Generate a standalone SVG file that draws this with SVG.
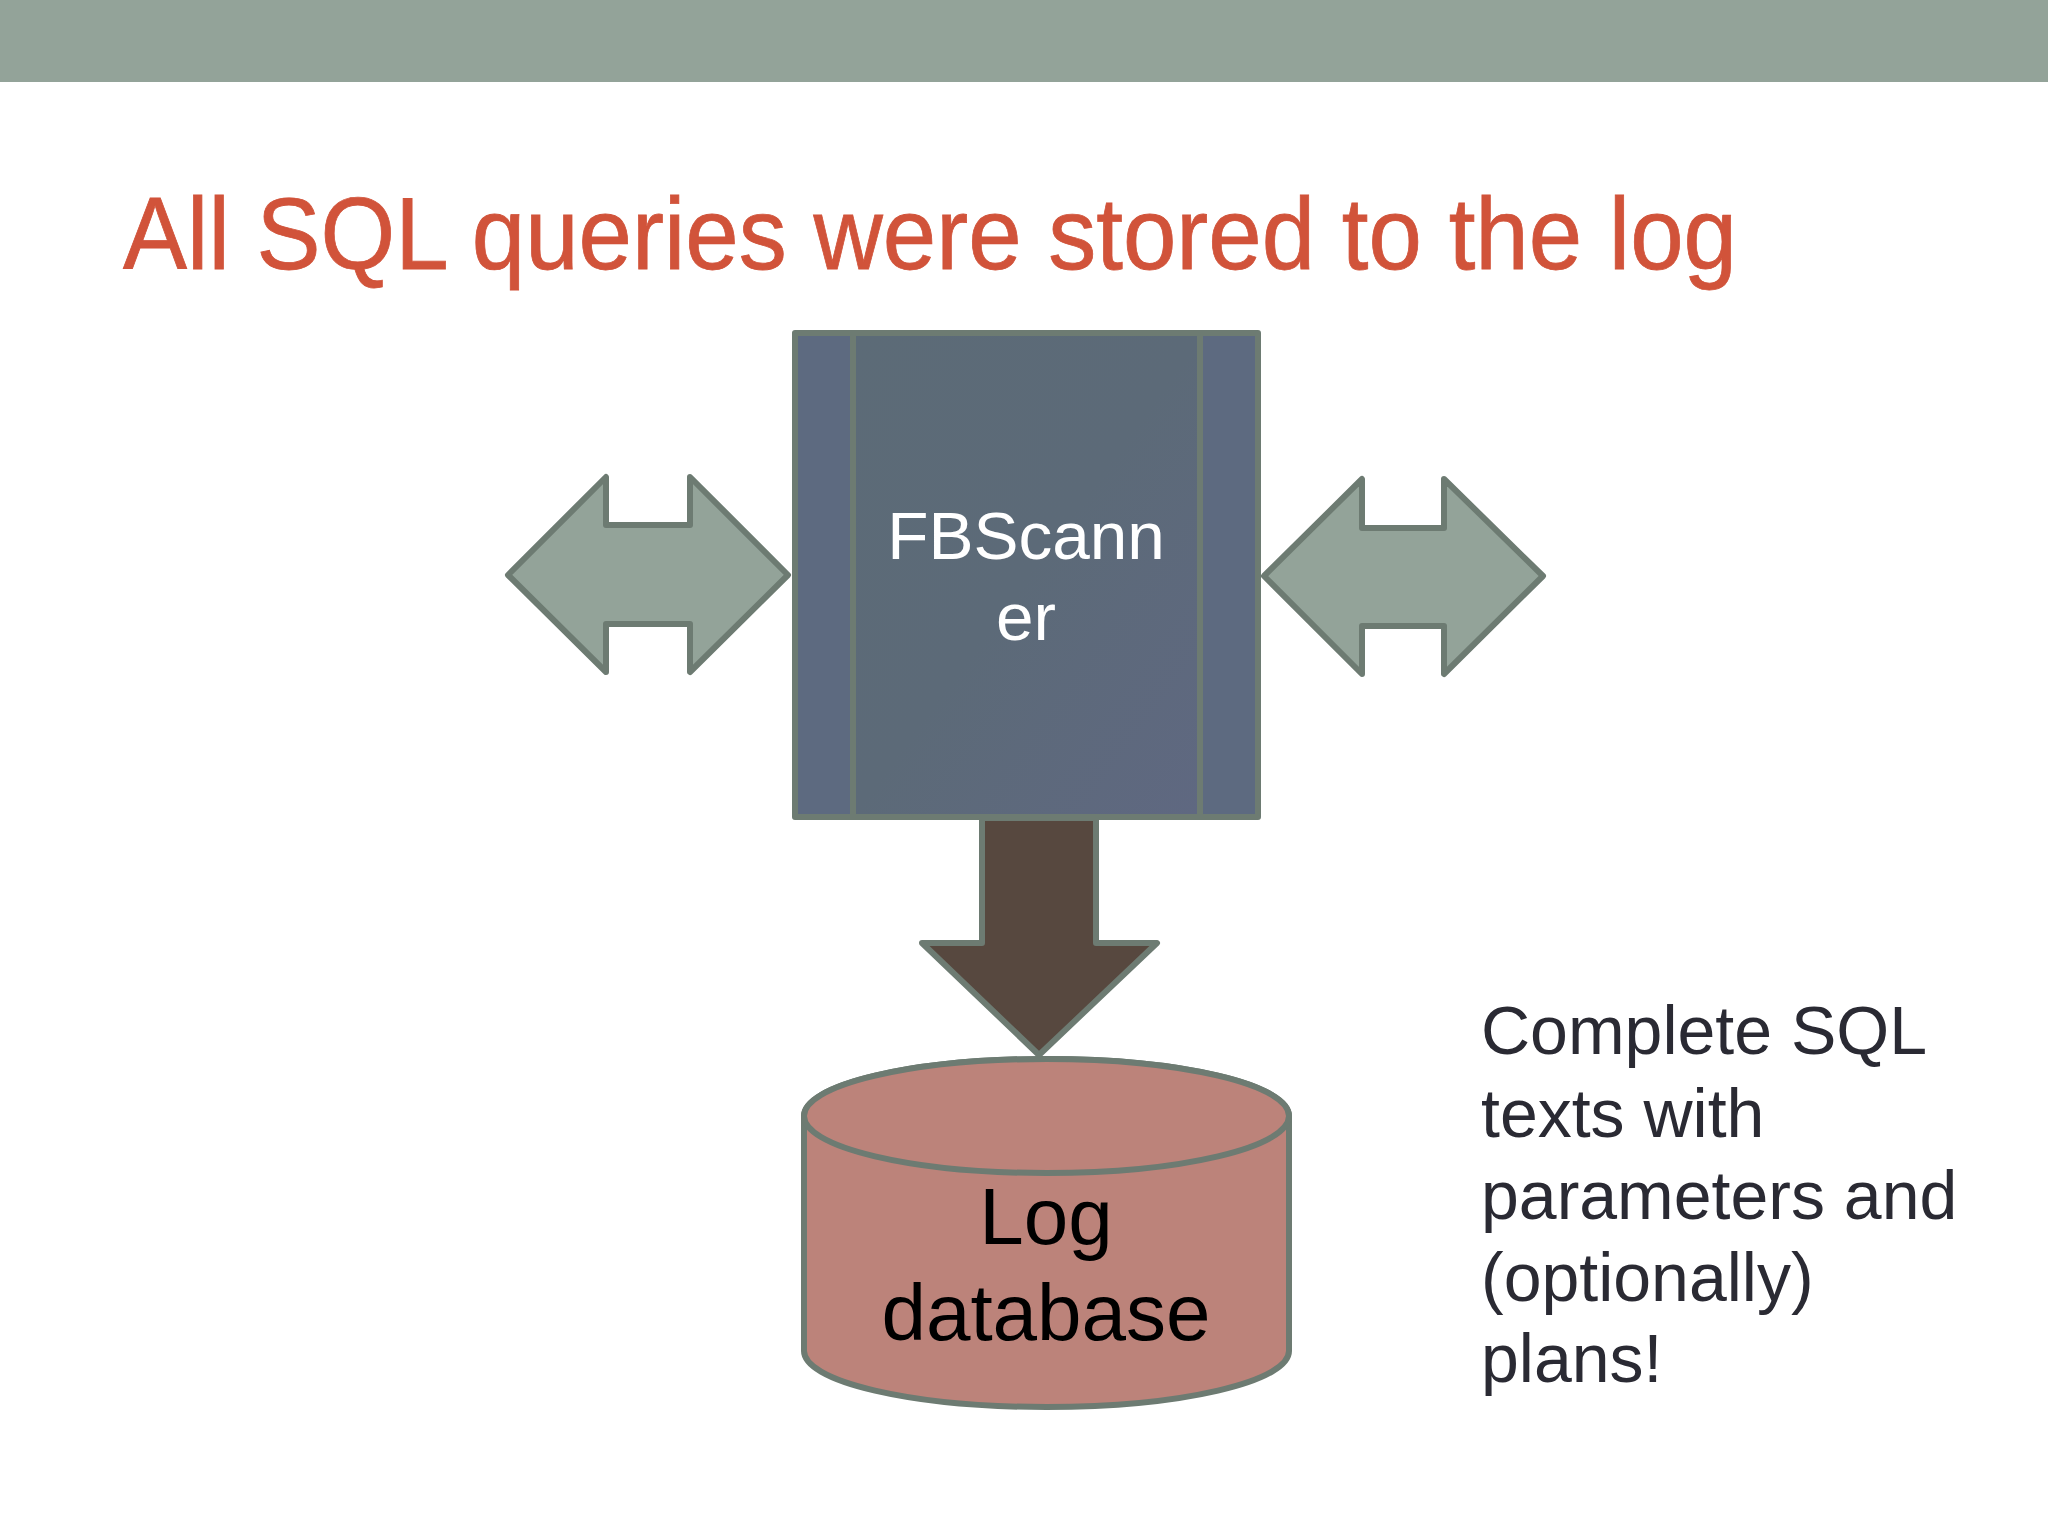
<svg xmlns="http://www.w3.org/2000/svg" width="2048" height="1536" viewBox="0 0 2048 1536">
<defs>
<linearGradient id="box" x1="0" y1="0" x2="1" y2="1">
<stop offset="0" stop-color="#5c6b77"/>
<stop offset="0.5" stop-color="#5c6a78"/>
<stop offset="1" stop-color="#5f6881"/>
</linearGradient>
</defs>
<style>
.s{stroke:#6d7b72;stroke-width:6;stroke-linejoin:round}
.a{fill:#93a399}
text{font-family:"Liberation Sans",Arial,sans-serif}
.w{font-size:67.500px;fill:#fff;text-anchor:middle}
.k{font-size:80px;fill:#000;text-anchor:middle}
.b{font-size:68px;fill:#2a2a33}
</style>
<rect width="2048" height="1536" fill="#fff"/>
<rect id="top-bar" width="2048" height="82" fill="#93a399"/>
<text id="title" x="123" y="269" font-size="102" fill="#d1533a" stroke="#d1533a" stroke-width="0.8" textLength="1614" lengthAdjust="spacingAndGlyphs">All SQL queries were stored to the log</text>
<g id="connectors">
<polygon id="arrow-left" class="a s" points="508,575 606,477 606,525 690,525 690,477 788,575 690,672 690,624 606,624 606,672"/>
<polygon id="arrow-right" class="a s" points="1264,576 1362,479 1362,528 1444,528 1444,479 1543,576 1444,674 1444,626 1362,626 1362,674"/>
<polygon id="arrow-down" class="s" fill="#57483f" points="982,818 982,943 922,943 1039,1055 1157,943 1096,943 1096,818"/>
</g>
<g id="fbscanner">
<rect class="s" x="795" y="333" width="463" height="484" fill="#5d6a80"/>
<rect x="853" y="336" width="347" height="478" fill="url(#box)"/>
<line class="s" x1="853" y1="333" x2="853" y2="817"/>
<line class="s" x1="1200" y1="333" x2="1200" y2="817"/>
<text class="w" x="1026" y="559">FBScann</text>
<text class="w" x="1026" y="640">er</text>
</g>
<g id="log-database">
<path class="s" fill="#bc837a" d="M804,1116 A242.500,57 0 0 1 1289,1116 V1351 A242.500,56 0 0 1 804,1351 Z"/>
<ellipse class="s" cx="1046.500" cy="1116" rx="242.500" ry="57" fill="#bc837a"/>
<text class="k" x="1046" y="1244">Log</text>
<text class="k" x="1046" y="1340">database</text>
</g>
<g id="note">
<text class="b" x="1481" y="1054">Complete SQL</text>
<text class="b" x="1481" y="1137">texts with</text>
<text class="b" x="1481" y="1219">parameters and</text>
<text class="b" x="1481" y="1301">(optionally)</text>
<text class="b" x="1481" y="1382">plans!</text>
</g>
</svg>
